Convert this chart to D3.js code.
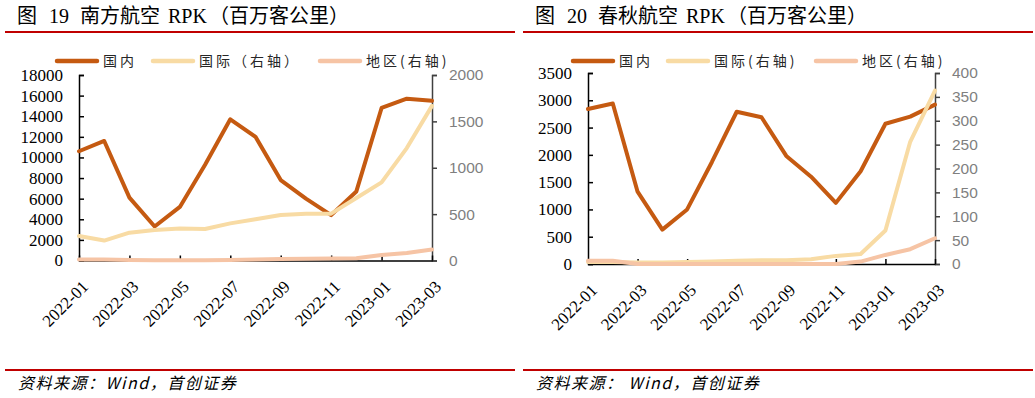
<!DOCTYPE html>
<html>
<head>
<meta charset="utf-8">
<script src="https://cdn.jsdelivr.net/npm/d3@7"></script>
<style>
  body { margin: 0; background: #fff; }
  svg { display: block; }
</style>
</head>
<body>
<svg id="chart" width="1035" height="398"></svg>
<script>
// months on the x axis
const months = ["2022-01", "2022-02", "2022-03", "2022-04", "2022-05", "2022-06", "2022-07",
  "2022-08", "2022-09", "2022-10", "2022-11", "2022-12", "2023-01", "2023-02", "2023-03"];
const monthLabels = ["2022-01", "2022-03", "2022-05", "2022-07", "2022-09", "2022-11", "2023-01", "2023-03"];

// 南方航空 RPK
const csDomestic = [10600, 11600, 6100, 3300, 5200, 9300, 13700, 12000, 7800, 6000, 4400, 6700, 14800, 15700, 15500];
const csIntl = [265, 215, 300, 330, 345, 340, 400, 445, 490, 505, 505, 674, 842, 1212, 1667];
const csRegion = [12, 10, 5, 3, 3, 4, 6, 10, 15, 20, 22, 25, 60, 80, 118];
const csLeftTicks = [0, 2000, 4000, 6000, 8000, 10000, 12000, 14000, 16000, 18000];
const csRightTicks = [0, 500, 1000, 1500, 2000];

// 春秋航空 RPK
const sqDomestic = [2840, 2940, 1325, 630, 1000, 1870, 2790, 2690, 1980, 1600, 1120, 1700, 2570, 2700, 2920];
const sqIntl = [4, 4, 3, 3, 4, 5, 7, 8, 8, 10, 17, 21, 70, 256, 363];
const sqRegion = [7, 7, 0, 0, 0, 0, 0, 0, 0, 0, 0, 5, 19, 31, 54];
const sqLeftTicks = [0, 500, 1000, 1500, 2000, 2500, 3000, 3500];
const sqRightTicks = [0, 50, 100, 150, 200, 250, 300, 350, 400];

const colors = { domestic: "#C55A11", intl: "#F8DBA4", region: "#F6C4A5" };
const cjk = "'Noto Sans CJK SC', sans-serif";
const serif = "'Liberation Serif', 'Times New Roman', serif";

const svg = d3.select("#chart");

drawPanel({
  left: 0, num: "19", name: "南方航空",
  x0: 79, x1: 432, yTop: 75, yZero: 260.5,
  domestic: csDomestic, intl: csIntl, region: csRegion,
  leftTicks: csLeftTicks, rightTicks: csRightTicks,
  legend: [57, 153, 320], legendText: ["国内", "国际（右轴）", "地区(右轴)"],
  source: "资料来源：Wind，首创证券"
});

drawPanel({
  left: 518, num: "20", name: "春秋航空",
  x0: 588, x1: 935, yTop: 73, yZero: 264,
  domestic: sqDomestic, intl: sqIntl, region: sqRegion,
  leftTicks: sqLeftTicks, rightTicks: sqRightTicks,
  legend: [573, 668, 816], legendText: ["国内", "国际(右轴)", "地区(右轴)"],
  source: "资料来源：  Wind，首创证券"
});

function drawPanel(p) {
  const g = svg.append("g");

  // title
  const title = g.append("text")
    .attr("y", 23)
    .attr("font-size", "20px")
    .attr("fill", "#000");
  title.append("tspan").attr("x", p.left + 17).attr("font-family", cjk).text("图");
  title.append("tspan").attr("x", p.left + 49).attr("font-family", serif).text(p.num);
  title.append("tspan").attr("x", p.left + 80).attr("font-family", cjk).text(p.name);
  title.append("tspan").attr("x", p.left + 168).attr("font-family", serif).text("RPK");
  title.append("tspan").attr("x", p.left + 209).attr("font-family", cjk).text("（百万客公里）");

  // red rules
  g.append("line")
    .attr("x1", p.left + 5).attr("x2", p.left + 515)
    .attr("y1", 32).attr("y2", 32)
    .attr("stroke", "#C00000").attr("stroke-width", 2);
  g.append("line")
    .attr("x1", p.left + 5).attr("x2", p.left + 515)
    .attr("y1", 370).attr("y2", 370)
    .attr("stroke", "#C00000").attr("stroke-width", 2);

  // source
  g.append("text")
    .attr("x", p.left + 18).attr("y", 389)
    .attr("font-family", cjk)
    .attr("font-size", "16px")
    .attr("font-style", "italic")
    .attr("letter-spacing", "1.5px")
    .attr("fill", "#000")
    .text(p.source);

  const x = d3.scalePoint().domain(months).range([p.x0, p.x1]);
  const yL = d3.scaleLinear()
    .domain([0, d3.max(p.leftTicks)])
    .range([p.yZero, p.yTop]);
  const yR = d3.scaleLinear()
    .domain([0, d3.max(p.rightTicks)])
    .range([p.yZero, p.yTop]);

  // left axis
  const axL = g.append("g")
    .attr("transform", "translate(" + p.x0 + ",0)")
    .call(d3.axisLeft(yL).tickValues(p.leftTicks).tickFormat(d3.format("d"))
      .tickSize(-5).tickPadding(16));
  axL.select(".domain").attr("stroke", "#000").attr("stroke-width", 1.5);
  axL.selectAll(".tick line").attr("stroke", "#000").attr("stroke-width", 1.5);
  axL.selectAll(".tick text")
    .attr("font-family", serif).attr("font-size", "17px").attr("fill", "#000");

  // right axis
  const axR = g.append("g")
    .attr("transform", "translate(" + p.x1 + ",0)")
    .call(d3.axisRight(yR).tickValues(p.rightTicks).tickFormat(d3.format("d"))
      .tickSize(5).tickPadding(12));
  axR.select(".domain").attr("stroke", "#404040").attr("stroke-width", 1.5);
  axR.selectAll(".tick line").attr("stroke", "#404040").attr("stroke-width", 1.5);
  axR.selectAll(".tick text")
    .attr("font-family", "'Liberation Sans', Arial, sans-serif")
    .attr("font-size", "15.5px").attr("fill", "#7F7F7F");

  // x axis
  const axX = g.append("g")
    .attr("transform", "translate(0," + p.yZero + ")")
    .call(d3.axisBottom(x).tickValues(monthLabels).tickSize(-5).tickSizeOuter(0).tickFormat(""));
  axX.select(".domain").attr("stroke", "#000").attr("stroke-width", 1.5);
  axX.selectAll(".tick line").attr("stroke", "#000").attr("stroke-width", 1.5);

  g.append("g")
    .selectAll("text")
    .data(monthLabels)
    .join("text")
    .attr("transform", d => "translate(" + (x(d) + 6) + "," + (p.yZero + 23) + ") rotate(-45)")
    .attr("text-anchor", "end")
    .attr("dy", "0.35em")
    .attr("font-family", serif)
    .attr("font-size", "17px")
    .attr("fill", "#000")
    .text(d => d);

  // series
  const series = [
    { values: p.domestic, y: yL, color: colors.domestic },
    { values: p.intl, y: yR, color: colors.intl },
    { values: p.region, y: yR, color: colors.region }
  ];
  series.forEach(s => {
    const line = d3.line()
      .x((d, i) => x(months[i]))
      .y(d => s.y(d));
    g.append("path")
      .attr("d", line(s.values))
      .attr("fill", "none")
      .attr("stroke", s.color)
      .attr("stroke-width", 4)
      .attr("stroke-linejoin", "round")
      .attr("stroke-linecap", "round");
  });

  // legend
  const legendColors = [colors.domestic, colors.intl, colors.region];
  p.legend.forEach((lx, i) => {
    g.append("line")
      .attr("x1", lx).attr("x2", lx + 40)
      .attr("y1", 61).attr("y2", 61)
      .attr("stroke", legendColors[i])
      .attr("stroke-width", 4.5)
      .attr("stroke-linecap", "round");
    g.append("text")
      .attr("x", lx + 46).attr("y", 66)
      .attr("font-family", cjk)
      .attr("font-size", "14px")
      .attr("letter-spacing", "3px")
      .attr("fill", "#262626")
      .text(p.legendText[i]);
  });
}
</script>
</body>
</html>
